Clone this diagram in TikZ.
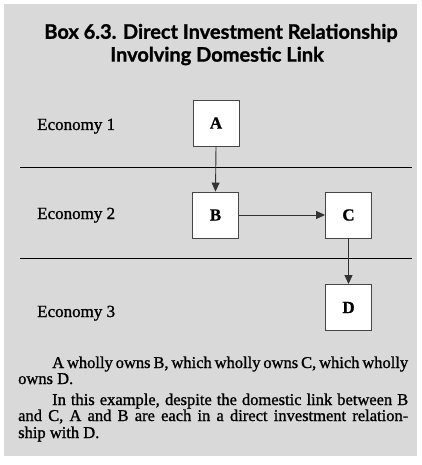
\documentclass[tikz,border=0pt]{standalone}
\usepackage{fontspec}
\setmainfont{Liberation Serif}[UprightFeatures={FakeBold=1.1},BoldFeatures={FakeBold=0.8}]
\newfontfamily\titlefont{Lato}[BoldFeatures={FakeBold=1.2}]
\usetikzlibrary{arrows.meta}
\definecolor{bggray}{RGB}{217,217,217}
\definecolor{boxline}{RGB}{70,70,70}
\tikzset{
  ebox/.style={draw=boxline,line width=0.9pt,fill=white,minimum size=46pt,inner sep=0pt,font=\bfseries\fontsize{17}{19}\selectfont},
  elabel/.style={anchor=base west,inner sep=0pt,font=\fontsize{17}{19}\selectfont},
  tline/.style={anchor=base west,inner sep=0pt,font=\fontsize{16.5}{18}\selectfont},
  ttl/.style={inner sep=0pt,font=\titlefont\bfseries\fontsize{20}{23}\selectfont},
  sep/.style={draw=black,line width=0.7pt},
  link/.style={draw=black!80,line width=0.9pt,-{Triangle[length=9pt,width=8pt]}}
}
\begin{document}
\begin{tikzpicture}[x=1pt,y=-1pt]
\useasboundingbox (0,0) rectangle (422,465);
\fill[bggray] (4,4) rectangle (417,456);
\node[ttl] (t1) at (221,33) {Box 6.3. Direct Investment Relationship};
\node[ttl] (t2) at (217,56) {Involving Domestic Link};
\node[elabel] (e1) at (37,130) {Economy 1};
\node[elabel] (e2) at (37,219) {Economy 2};
\node[elabel] (e3) at (37,317) {Economy 3};
\coordinate (l1a) at (20,167);
\coordinate (l1b) at (412,167);
\coordinate (l2a) at (20,258);
\coordinate (l2b) at (412,258);
\draw[sep] (l1a) -- (l1b);
\draw[sep] (l2a) -- (l2b);
\node[ebox] (A) at (216,123) {A};
\node[ebox] (B) at (215.5,215) {B};
\node[ebox] (C) at (348.5,215) {C};
\node[ebox] (D) at (348.5,307.5) {D};
\draw[link] (A.south) -- (B.north);
\draw[link] (B.east) -- (C.west);
\draw[link] (C.south) -- (D.north);
\node[tline] (p1) at (52,368) {\hbox to 356pt{A wholly owns B, which wholly owns C, which wholly}};
\node[tline] (p2) at (18,384) {owns D.};
\node[tline] (p3) at (52,405) {\hbox to 356pt{In this example, despite the domestic link between B}};
\node[tline] (p4) at (18,421) {\hbox to 390pt{and C, A and B are each in a direct investment relation-}};
\node[tline] (p5) at (18,438) {ship with D.};
\end{tikzpicture}
\end{document}
